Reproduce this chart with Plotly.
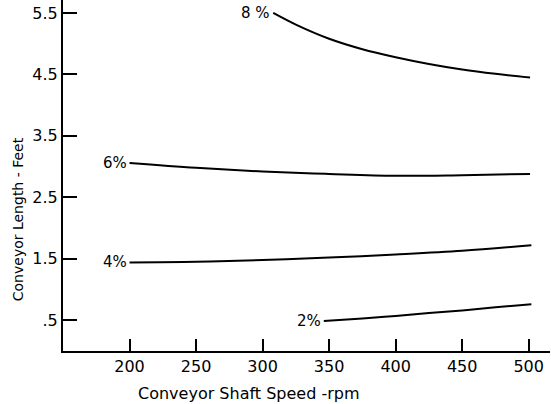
import plotly.graph_objects as go

# Data
rpm_8 = [308, 325, 350, 375, 400, 425, 450, 475, 501]
len_8 = [5.50, 5.31, 5.08, 4.91, 4.78, 4.67, 4.58, 4.51, 4.45]

rpm_6 = [200, 250, 300, 350, 400, 450, 501]
len_6 = [3.06, 2.98, 2.92, 2.88, 2.85, 2.86, 2.88]

rpm_4 = [200, 250, 300, 350, 400, 450, 502]
len_4 = [1.44, 1.45, 1.48, 1.52, 1.57, 1.63, 1.72]

rpm_2 = [346, 375, 400, 425, 450, 475, 502]
len_2 = [0.49, 0.53, 0.57, 0.62, 0.66, 0.71, 0.76]

series = [("8 %", rpm_8, len_8), ("6%", rpm_6, len_6), ("4%", rpm_4, len_4), ("2%", rpm_2, len_2)]

x_ticks = [200, 250, 300, 350, 400, 450, 500]
y_ticks = [0.5, 1.5, 2.5, 3.5, 4.5, 5.5]
y_tick_labels = [".5", "1.5", "2.5", "3.5", "4.5", "5.5"]

FONT = "DejaVu Sans"

fig = go.Figure()
for name, xs, ys in series:
    fig.add_trace(go.Scatter(x=xs, y=ys, mode="lines", name=name,
                             line=dict(color="black", width=2, shape="spline", smoothing=1.0),
                             hoverinfo="skip", showlegend=False))
    fig.add_annotation(x=xs[0], y=ys[0], text=name, showarrow=False,
                       xanchor="right", yanchor="middle", xshift=-1,
                       font=dict(family=FONT, size=15, color="black"))

fig.add_annotation(xref="paper", yref="paper", x=0.38, y=-0.12,
                   text="Conveyor Shaft Speed -rpm", showarrow=False,
                   xanchor="center", yanchor="middle",
                   font=dict(family=FONT, size=16, color="black"))
fig.add_annotation(xref="paper", yref="paper", x=-0.092, y=0.376,
                   text="Conveyor Length - Feet", showarrow=False, textangle=-90,
                   xanchor="center", yanchor="middle",
                   font=dict(family=FONT, size=14, color="black"))

fig.update_layout(
    width=551, height=404,
    margin=dict(l=63, r=1, t=0, b=53),
    paper_bgcolor="white", plot_bgcolor="white",
    font=dict(family=FONT, size=16, color="black"),
    xaxis=dict(range=[150, 516], tickvals=x_ticks, ticks="inside", ticklen=12,
               tickwidth=2, tickcolor="black", showline=True, linecolor="black",
               linewidth=2, showgrid=False, zeroline=False,
               tickfont=dict(family=FONT, size=16, color="black")),
    yaxis=dict(range=[0, 5.71], tickvals=y_ticks, ticktext=y_tick_labels,
               ticks="inside", ticklen=14, tickwidth=2, tickcolor="black",
               showline=True, linecolor="black", linewidth=2, showgrid=False,
               zeroline=False, tickfont=dict(family=FONT, size=16, color="black")),
)

fig.write_html("out.html")
